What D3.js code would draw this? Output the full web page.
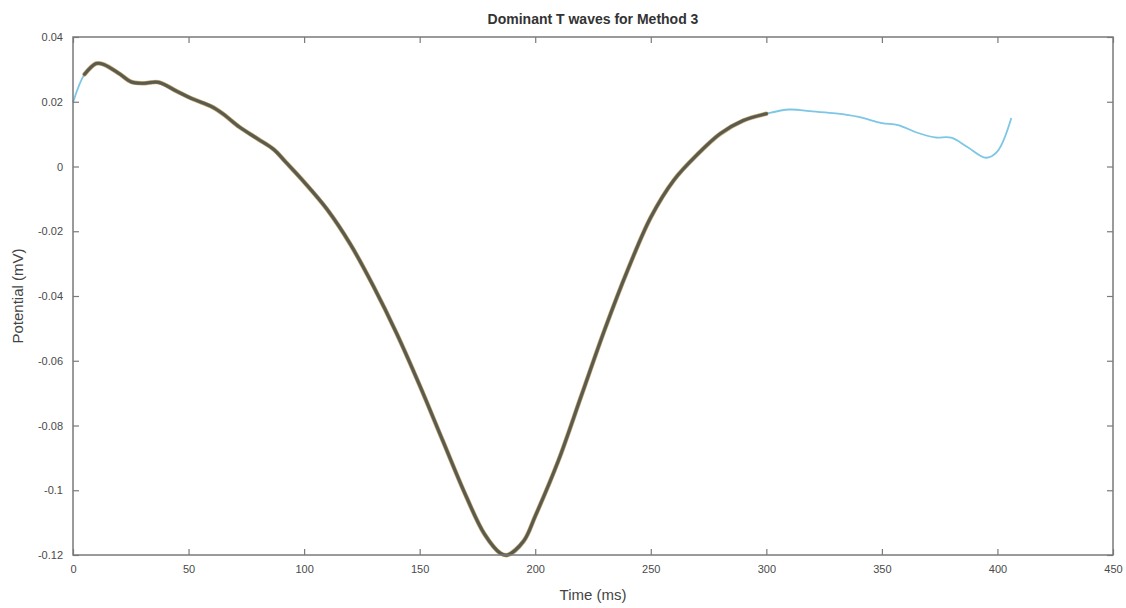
<!DOCTYPE html>
<html>
<head>
<meta charset="utf-8">
<script src="https://cdn.jsdelivr.net/npm/d3@7"></script>
<style>
  body { margin: 0; background: #fff; }
  svg { display: block; font-family: "Liberation Sans", Arial, sans-serif; }
</style>
</head>
<body>
<svg class="chart"></svg>
<script>
// dominant T wave (time in ms, potential in mV)
var times = [0, 5, 10, 13, 20, 25, 30, 37, 45, 52, 60, 65, 72, 80, 87, 92, 100, 110, 120, 130,
  140, 150, 160, 170, 178, 185, 188, 195, 200, 210, 220, 230, 240, 250, 260, 270, 280, 290, 300,
  310, 320, 330, 340, 350, 357, 365, 373, 380, 387, 395, 400, 406];
var potential = [0.0198, 0.0285, 0.0318, 0.0316, 0.0287, 0.0262, 0.0257, 0.026, 0.0232, 0.0208,
  0.0185, 0.0162, 0.0122, 0.0085, 0.0052, 0.0014, -0.0048, -0.0133, -0.024, -0.037,
  -0.0515, -0.0676, -0.0847, -0.1017, -0.1135, -0.1195, -0.12, -0.1157, -0.108, -0.0909,
  -0.0707, -0.0505, -0.032, -0.0157, -0.0042, 0.0036, 0.0101, 0.0142, 0.0163,
  0.0176, 0.017, 0.0164, 0.0153, 0.0134, 0.0128, 0.0105, 0.009, 0.0089, 0.006, 0.0027, 0.0047, 0.015];

// the other waves overlap almost exactly and stop earlier
var seriesNames = ["wave 1", "wave 2", "wave 3", "wave 4", "wave 5"];
var seriesColors = ["#d9935a", "#c9b060", "#8a9a6a", "#6f6a5e", "#585a4c"];
var seriesWidths = [4.6, 4.0, 3.6, 3.2, 2.6];
var seriesStart = 3, seriesEnd = 305;
var fullColor = "#7cc6e6";

var xTicks = [0, 50, 100, 150, 200, 250, 300, 350, 400, 450];
var yTicks = [0.04, 0.02, 0, -0.02, -0.04, -0.06, -0.08, -0.1, -0.12];

var width = 1126, height = 608;
var margin = { top: 37, right: 13, bottom: 53, left: 73 };

var svg = d3.select(".chart").attr("width", width).attr("height", height);

var x = d3.scaleLinear().domain([0, 450]).range([margin.left, width - margin.right]);
var y = d3.scaleLinear().domain([-0.12, 0.04]).range([height - margin.bottom, margin.top]);

var pts = times.map(function(t, i) { return [t, potential[i]]; });
var line = d3.line()
  .x(function(d) { return x(d[0]); })
  .y(function(d) { return y(d[1]); })
  .curve(d3.curveCatmullRom);

var plot = svg.append("g");

// light blue full-length wave
plot.append("path")
  .attr("d", line(pts))
  .attr("fill", "none")
  .attr("stroke", fullColor)
  .attr("stroke-width", 1.8);

// overlapping waves, stacked into one dark band with coloured fringes
var part = pts.filter(function(d) { return d[0] >= seriesStart && d[0] <= seriesEnd; });
plot.selectAll(".wave")
  .data(seriesNames)
  .join("path")
  .attr("class", "wave")
  .attr("d", line(part))
  .attr("fill", "none")
  .attr("stroke", function(d, i) { return seriesColors[i]; })
  .attr("stroke-linecap", "round")
  .attr("stroke-opacity", function(d, i) { return i < 3 ? 0.6 : 0.95; })
  .attr("stroke-width", function(d, i) { return seriesWidths[i]; });

// axes with MATLAB-style inward ticks on all sides
var axisColor = "#7a7a7a", textColor = "#4a4a4a";
function style(g) {
  g.select(".domain").remove();
  g.selectAll(".tick line").attr("stroke", axisColor).attr("stroke-width", 1.2);
  g.selectAll(".tick text").attr("fill", textColor).style("font-size", "11px");
}
var fmt = function(d) { return String(+d.toFixed(2)); };
svg.append("g")
  .attr("transform", "translate(0," + (height - margin.bottom) + ")")
  .call(d3.axisBottom(x).tickValues(xTicks).tickSize(-6).tickPadding(10).tickFormat(fmt))
  .call(style);
svg.append("g")
  .attr("transform", "translate(0," + margin.top + ")")
  .call(d3.axisTop(x).tickValues(xTicks).tickSize(-6).tickFormat(""))
  .call(style);
svg.append("g")
  .attr("transform", "translate(" + margin.left + ",0)")
  .call(d3.axisLeft(y).tickValues(yTicks).tickSize(-6).tickPadding(10).tickFormat(fmt))
  .call(style);
svg.append("g")
  .attr("transform", "translate(" + (width - margin.right) + ",0)")
  .call(d3.axisRight(y).tickValues(yTicks).tickSize(-6).tickFormat(""))
  .call(style);

svg.append("rect")
  .attr("x", margin.left).attr("y", margin.top)
  .attr("width", width - margin.left - margin.right)
  .attr("height", height - margin.top - margin.bottom)
  .attr("fill", "none")
  .attr("stroke", axisColor)
  .attr("stroke-width", 1.5);

svg.append("text")
  .attr("x", (margin.left + width - margin.right) / 2)
  .attr("y", 24)
  .attr("text-anchor", "middle")
  .attr("font-weight", "bold")
  .attr("font-size", 14)
  .attr("fill", "#333")
  .text("Dominant T waves for Method 3");

svg.append("text")
  .attr("x", (margin.left + width - margin.right) / 2)
  .attr("y", 600)
  .attr("text-anchor", "middle")
  .attr("font-size", 15)
  .attr("fill", "#444")
  .text("Time (ms)");

svg.append("text")
  .attr("transform", "translate(23," + ((margin.top + height - margin.bottom) / 2) + ") rotate(-90)")
  .attr("text-anchor", "middle")
  .attr("font-size", 15)
  .attr("fill", "#444")
  .text("Potential (mV)");
</script>
</body>
</html>
